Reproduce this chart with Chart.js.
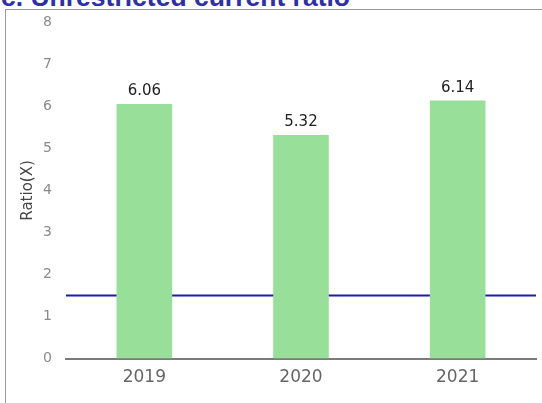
<!DOCTYPE html>
<html>
<head>
<meta charset="utf-8">
<script src="https://cdn.jsdelivr.net/npm/chart.js@4/dist/chart.umd.min.js"></script>
<style>
  html, body { margin: 0; padding: 0; background: #fff; overflow: hidden; }
  #title {
    position: absolute; left: 1px; top: -16px;
    font: bold 26.5px "Liberation Sans", Arial, sans-serif;
    line-height: 26px; color: #2f2fa6; white-space: nowrap;
  }
  #frame {
    position: absolute; left: 5px; top: 9px; width: 600px; height: 500px;
    border: 1px solid #9a9a9a; box-sizing: border-box;
  }
  #wrap { position: absolute; left: 0; top: 0; width: 542px; height: 403px; }
</style>
</head>
<body>
<div id="title">c. Unrestricted current ratio</div>
<div id="frame"></div>
<div id="wrap"><canvas id="myChart"></canvas></div>
<script>
const years = ['2019', '2020', '2021'];
const ratios = [6.06, 5.32, 6.14];
const benchmark = 1.5;
const yTicks = [0, 1, 2, 3, 4, 5, 6, 7, 8];

// writes the value above each bar
const barValues = {
	id: 'barValues',
	afterDatasetsDraw(chart) {
		const ctx = chart.ctx;
		const meta = chart.getDatasetMeta(0);
		ctx.save();
		ctx.font = '15px "DejaVu Sans"';
		ctx.fillStyle = '#222';
		ctx.textAlign = 'center';
		ctx.textBaseline = 'alphabetic';
		meta.data.forEach((bar, i) => {
			ctx.fillText(ratios[i].toFixed(2), bar.x, bar.y - 9);
		});
		ctx.restore();
	}
};

const ctx = document.getElementById('myChart').getContext('2d');
const myChart = new Chart(ctx, {
	type: 'bar',
	data: {
		labels: years,
		datasets: [{
			label: 'Ratio',
			data: ratios,
			backgroundColor: '#98df9a',
			borderWidth: 0,
			barPercentage: 0.355,
			categoryPercentage: 1,
			grouped: false,
			order: 1
		}, {
			type: 'line',
			label: 'Benchmark',
			data: [{x: 0, y: benchmark}, {x: 1, y: benchmark}],
			xAxisID: 'x2',
			borderColor: '#1c1cb0',
			borderWidth: 2,
			pointRadius: 0,
			fill: false,
			order: 2
		}]
	},
	options: {
		responsive: true,
		maintainAspectRatio: false,
		animation: false,
		layout: { padding: { left: 0, right: 6, top: 21, bottom: 0 } },
		plugins: { legend: { display: false }, tooltip: { enabled: false } },
		scales: {
			x: {
				grid: { display: false, drawTicks: false },
				border: { display: true, color: '#7a7a7a', width: 2 },
				ticks: { color: '#666', font: { family: 'DejaVu Sans', size: 17 }, padding: 9 },
				afterFit: (axis) => { axis.height = 44.5; }
			},
			x2: {
				type: 'linear', display: false, min: 0, max: 1, offset: false
			},
			y: {
				min: 0, max: 8,
				grid: { display: false, drawTicks: false },
				border: { display: false },
				afterBuildTicks: (axis) => { axis.ticks = yTicks.map(v => ({value: v})); },
				ticks: { color: '#8a8a8a', font: { family: 'DejaVu Sans', size: 14 }, padding: 14 },
				title: {
					display: true, text: 'Ratio(X)', color: '#444',
					font: { family: 'DejaVu Sans', size: 15 },
					padding: { top: 19, bottom: 0 }
				},
				afterFit: (axis) => { axis.width = 66; }
			}
		}
	},
	plugins: [barValues]
});
</script>
</body>
</html>
